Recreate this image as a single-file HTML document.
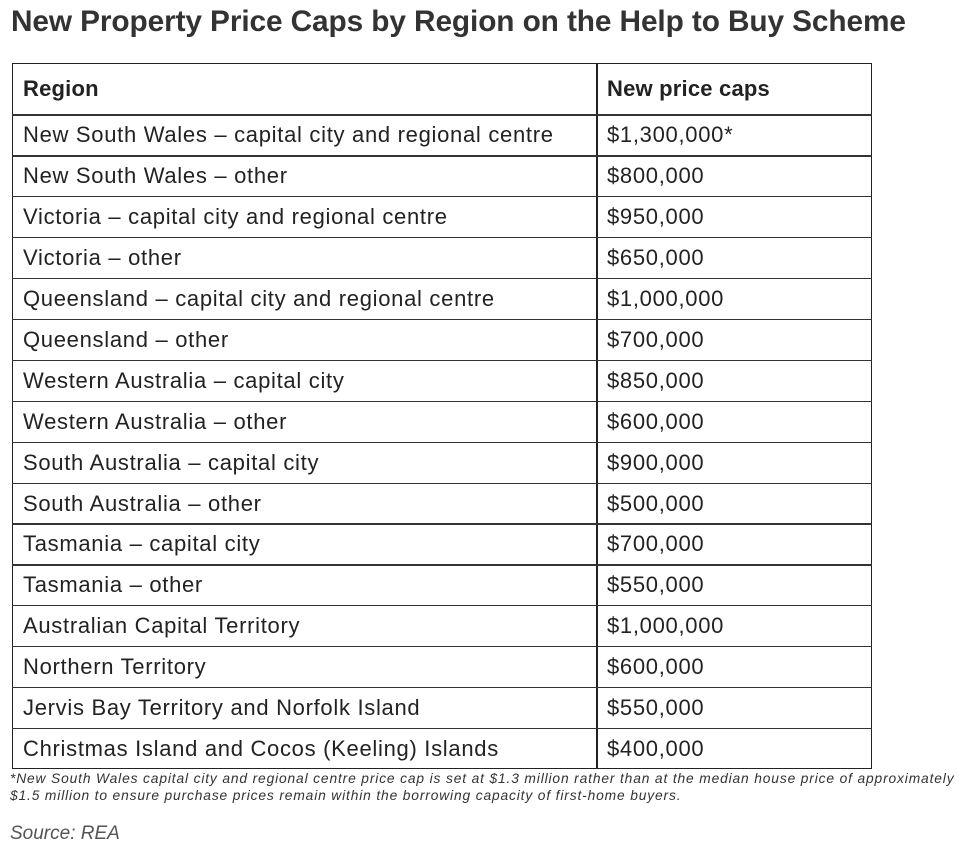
<!DOCTYPE html>
<html><head><style>
body{margin:0;width:963px;height:858px;background:#fff;position:relative;font-family:"Liberation Sans",sans-serif;overflow:hidden}
.t{position:absolute;left:11px;top:5px;font-size:29.8px;font-weight:bold;color:#333;white-space:nowrap;letter-spacing:-0.1px}
.tb{position:absolute;left:12px;top:63px;width:860px;height:706px;border:1.5px solid #222;box-sizing:border-box}
.v{position:absolute;left:596px;top:63px;width:1.5px;height:706px;background:#222}
.h{position:absolute;left:12px;width:860px;height:1.3px;background:#333}
.c{position:absolute;font-size:22px;letter-spacing:0.7px;color:#222;white-space:nowrap;line-height:24px}
.b{font-weight:bold;letter-spacing:0.2px}
.f{position:absolute;left:10px;top:770px;font-size:13.8px;letter-spacing:0.85px;font-style:italic;color:#333;line-height:17px;white-space:nowrap}
.s{position:absolute;left:10px;top:823px;font-size:19px;font-style:italic;color:#555}
</style></head><body>
<div class="t">New Property Price Caps by Region on the Help to Buy Scheme</div>
<div class="tb"></div><div class="v"></div>
<div id="g"></div>
<div class="f">*New South Wales capital city and regional centre price cap is set at $1.3 million rather than at the median house price of approximately<br>$1.5 million to ensure purchase prices remain within the borrowing capacity of first-home buyers.</div>
<div class="s">Source: REA</div>
<script>
(function(){
var r=[["Region","New price caps"],["New South Wales – capital city and regional centre","$1,300,000*"],["New South Wales – other","$800,000"],["Victoria – capital city and regional centre","$950,000"],["Victoria – other","$650,000"],["Queensland – capital city and regional centre","$1,000,000"],["Queensland – other","$700,000"],["Western Australia – capital city","$850,000"],["Western Australia – other","$600,000"],["South Australia – capital city","$900,000"],["South Australia – other","$500,000"],["Tasmania – capital city","$700,000"],["Tasmania – other","$550,000"],["Australian Capital Territory","$1,000,000"],["Northern Territory","$600,000"],["Jervis Bay Territory and Norfolk Island","$550,000"],["Christmas Island and Cocos (Keeling) Islands","$400,000"]];
var h="";
for(var i=0;i<r.length;i++){
 var tp=i==0?63:115+(i-1)*40.9, ht=i==0?52:40.9, y=tp+ht/2-12;
 if(i>0)h+='<div class="h" style="top:'+(tp-0.6)+'px"></div>';
 var cl=i==0?"c b":"c";
 h+='<div class="'+cl+'" style="left:23px;top:'+y+'px">'+r[i][0]+'</div>';
 h+='<div class="'+cl+'" style="left:607px;top:'+y+'px">'+r[i][1]+'</div>';
}
document.getElementById("g").innerHTML=h;
})();
</script>
</body></html>
